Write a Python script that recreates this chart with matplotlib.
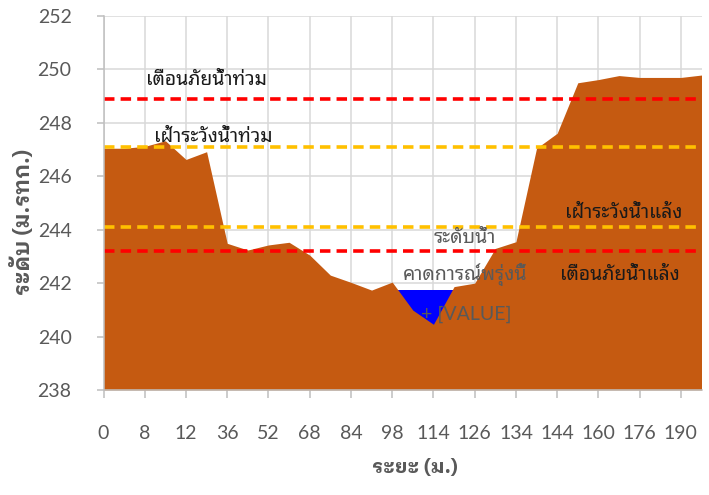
import matplotlib
matplotlib.use("Agg")
import matplotlib.pyplot as plt

# ---------------- data ----------------
distances = [0, 4, 8, 10, 12, 24, 36, 44, 52, 60, 68, 76, 84, 92, 98,
             106, 114, 120, 126, 130, 134, 140, 144, 152, 160, 168, 176, 184, 190, 196]
ground = [247.05, 247.05, 247.12, 247.33, 246.63, 246.92, 243.49, 243.24, 243.43, 243.53,
          243.05, 242.30, 242.03, 241.74, 242.04, 240.99, 240.46, 241.87, 242.00, 243.30,
          243.55, 247.05, 247.61, 249.50, 249.62, 249.77, 249.70, 249.70, 249.70, 249.79]
water_idx = [14, 15, 16, 17]
water_level = [241.74, 241.74, 241.74, 241.74]

flood_warn = 248.9
flood_watch = 247.1
drought_watch = 244.1
drought_warn = 243.2

# ---------------- style ----------------
GROUND = "#C55A11"
WATER = "#0000FF"
RED = "#FF0000"
YELLOW = "#FFC000"
GRID = "#D9D9D9"
AXIS = "#BFBFBF"
TICK_TXT = "#595959"
FONTS = ["Lato", "Noto Sans Thai Looped", "DejaVu Sans"]
THAI = ["Noto Sans Thai Looped", "Lato", "DejaVu Sans"]
THAI_BOLD = ["IBM Plex Sans Thai Looped", "Noto Sans Thai Looped", "DejaVu Sans"]

fig = plt.figure(figsize=(7.09, 4.95), dpi=100)
ax = fig.add_axes([103.5/709, 1-390/495, (701.5-103.5)/709, (390-16)/495])

x = list(range(len(distances)))
ax.fill_between(water_idx, 238, water_level, color=WATER, linewidth=0, zorder=2)
ax.fill_between(x, 238, ground, color=GROUND, linewidth=0, zorder=3)

for lvl, col in [(flood_warn, RED), (flood_watch, YELLOW), (drought_watch, YELLOW), (drought_warn, RED)]:
    ax.axhline(lvl, color=col, linewidth=2.6, dashes=(2.9, 1.7), zorder=4)

ax.set_xlim(0, len(distances) - 1)
ax.set_ylim(238, 252)
ax.set_yticks(range(238, 253, 2))
ax.set_xticks(x[::2])
ax.set_xticklabels([str(d) for d in distances[::2]])
ax.grid(True, color=GRID, linewidth=1.1, zorder=0)
ax.set_axisbelow(True)
for s in ["top", "right"]:
    ax.spines[s].set_visible(False)
for s in ["left", "bottom"]:
    ax.spines[s].set_color(AXIS)
    ax.spines[s].set_linewidth(1.1)
    ax.spines[s].set_zorder(5)
ax.tick_params(axis="y", length=5, width=1.1, color=AXIS, pad=18, labelsize=14, labelcolor=TICK_TXT)
ax.tick_params(axis="x", length=6, width=1.1, color=AXIS, pad=19, labelsize=14, labelcolor=TICK_TXT)
for lab in ax.get_xticklabels() + ax.get_yticklabels():
    lab.set_family(FONTS)

# threshold labels
lbl = dict(ha="center", va="baseline", fontsize=14, color="#1a1a1a", family=THAI, zorder=6)
ax.text(5.0, 249.42, "เตือนภัยน้ำท่วม", **lbl)
ax.text(5.33, 247.29, "เฝ้าระวังน้ำท่วม", **lbl)
ax.text(25.24, 244.43, "เฝ้าระวังน้ำแล้ง", **lbl)
ax.text(25.05, 242.12, "เตือนภัยน้ำแล้ง", **lbl)

# forecast label
fc = dict(ha="center", va="baseline", fontsize=14, color=TICK_TXT, zorder=6)
ax.text(17.53, 243.49, "ระดับน้ำ", family=THAI, **fc)
ax.text(17.55, 242.12, "คาดการณ์พรุ่งนี้", family=THAI, **fc)
ax.text(17.58, 240.62, "+ [VALUE]", family=FONTS, **fc)

# axis titles
fig.text(22/709, 1-222/495, "ระดับ (ม.รทก.)", rotation=90, ha="center", va="center",
         fontsize=15.5, fontweight="bold", color=TICK_TXT, family=THAI_BOLD)
fig.text(415/709, 1-468/495, "ระยะ (ม.)", ha="center", va="center",
         fontsize=14.5, fontweight="bold", color=TICK_TXT, family=THAI_BOLD)

fig.savefig("out.png", dpi=100)
